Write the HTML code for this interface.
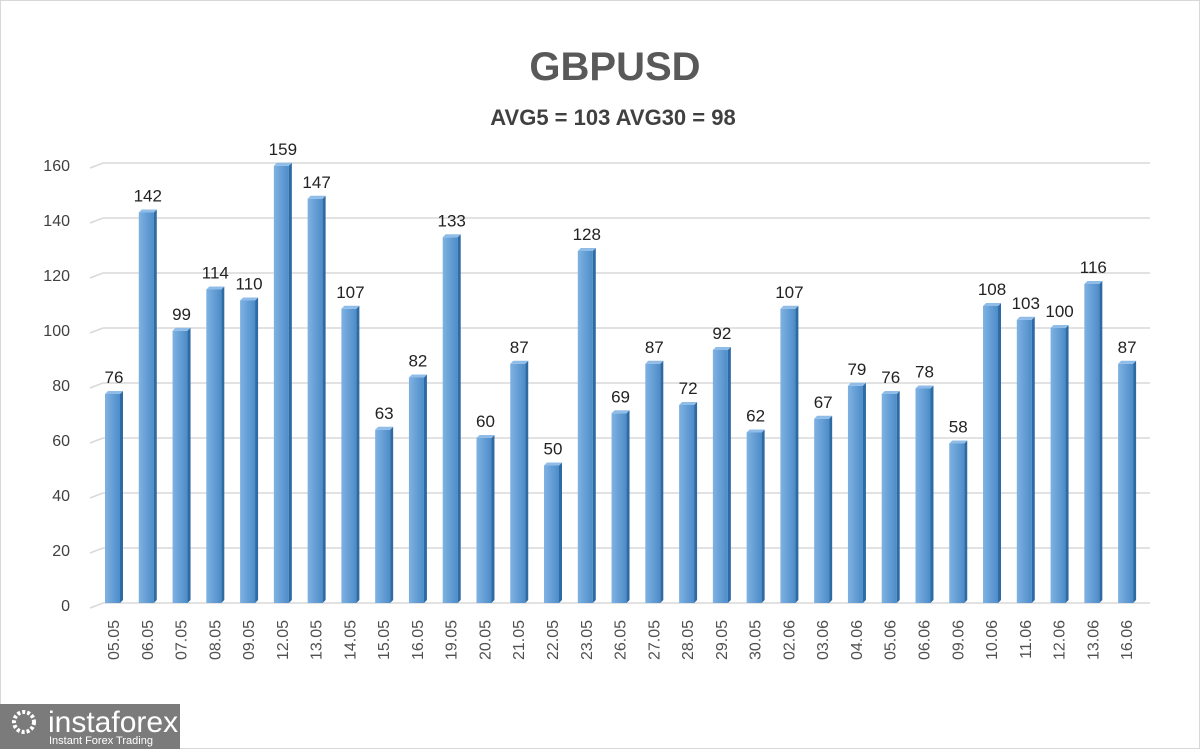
<!DOCTYPE html><html><head><style>body{margin:0;background:#fff}svg text{font-family:"Liberation Sans",sans-serif}</style></head><body>
<svg width="1200" height="749" xmlns="http://www.w3.org/2000/svg">
<defs><linearGradient id="g" x1="0" x2="1"><stop offset="0" stop-color="#7fb2e2"/><stop offset="1" stop-color="#4d8cc9"/></linearGradient></defs>
<rect x="0.5" y="0.5" width="1199" height="748" fill="#fff" stroke="#d8d8d8"/>
<text x="615" y="80" font-size="40" font-weight="bold" fill="#595959" text-anchor="middle">GBPUSD</text>
<text x="613" y="125" font-size="22" font-weight="bold" fill="#404040" text-anchor="middle">AVG5 = 103 AVG30 = 98</text>
<g id="grid" stroke="#d9d9d9" stroke-width="1.5"></g>
<g id="ax" font-size="16" fill="#404040" text-anchor="end"></g>
<g id="bars"></g>
<rect x="0" y="704" width="180" height="45" fill="#7b7b7b"/>
<circle cx="24" cy="722" r="10" fill="none" stroke="#fff" stroke-width="4" stroke-dasharray="3 2"/>
<text x="48" y="732" font-size="30" fill="#fff">instaforex</text>
<text x="49" y="744" font-size="11" fill="#fff">Instant Forex Trading</text>
</svg>
<script>
const v=[76,142,99,114,110,159,147,107,63,82,133,60,87,50,128,69,87,72,92,62,107,67,79,76,78,58,108,103,100,116,87];
const d=["05.05","06.05","07.05","08.05","09.05","12.05","13.05","14.05","15.05","16.05","19.05","20.05","21.05","22.05","23.05","26.05","27.05","28.05","29.05","30.05","02.06","03.06","04.06","05.06","06.06","09.06","10.06","11.06","12.06","13.06","16.06"];
const ns="http://www.w3.org/2000/svg";
function el(p,t,a,txt){const e=document.createElementNS(ns,t);for(const k in a)e.setAttribute(k,a[k]);if(txt!==undefined)e.textContent=txt;document.getElementById(p).appendChild(e);}
for(let i=0;i<=8;i++){const y=605-i*55;el("grid","line",{x1:103,y1:y-2,x2:1150,y2:y-2});el("grid","line",{x1:90,y1:y+3,x2:103,y2:y-2});el("ax","text",{x:70,y:y+6},String(i*20));}
v.forEach((val,i)=>{const x=105+i*33.77,h=val*2.75,t=603-h;
el("bars","rect",{x:x,y:t,width:15,height:h,fill:"url(#g)"});
el("bars","polygon",{points:`${x+15},${t} ${x+18},${t-3} ${x+18},${603-3} ${x+15},603`,fill:"#2e6aa3"});
el("bars","polygon",{points:`${x},${t} ${x+3},${t-3} ${x+18},${t-3} ${x+15},${t}`,fill:"#8fbde8"});
el("bars","text",{x:x+9,y:t-11,"font-size":"17","fill":"#222","text-anchor":"middle"},String(val));
el("bars","text",{x:0,y:0,"font-size":"16","fill":"#505050","text-anchor":"end",transform:`translate(${x+14},620) rotate(-90)`},d[i]);});
</script>
</body></html>
